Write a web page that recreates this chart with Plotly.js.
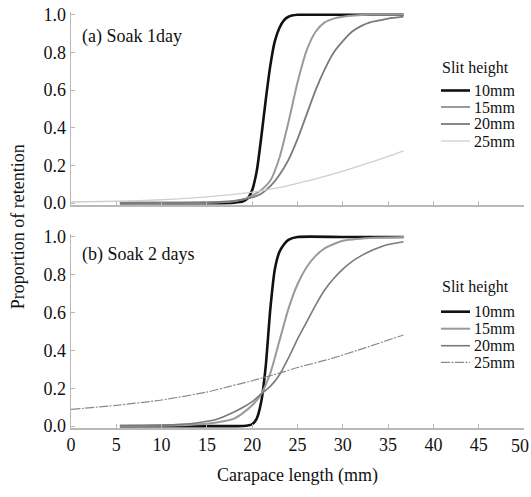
<!DOCTYPE html>
<html>
<head>
<meta charset="utf-8">
<script src="https://cdn.plot.ly/plotly-3.0.1.min.js"></script>
<style>html,body{margin:0;padding:0;background:#fff;font-family:"Liberation Serif",serif;}#chart{width:531px;height:497px;}
#chart text{font-family:"Liberation Serif","Times New Roman",serif !important;}</style>
</head>
<body>
<div id="chart"></div>
<script>
// ---- Data ----
const seriesNames = ["10mm", "15mm", "20mm", "25mm"];
const xTicks = [0, 5, 10, 15, 20, 25, 30, 35, 40, 45, 50];
const xTickText = ["0", "5", "10", "15", "20", "25", "30", "35", "40", "45", ""];
const yTicks = [0, 0.2, 0.4, 0.6, 0.8, 1.0];

// (a) Soak 1day
const a10x = [5.4, 10, 15, 18, 19, 19.5, 20, 20.5, 21, 21.5, 22, 22.5, 23, 23.5, 24, 25, 27, 30, 36.7];
const a10y = [0, 0, 0, 0.003, 0.01, 0.025, 0.07, 0.17, 0.35, 0.55, 0.73, 0.86, 0.93, 0.97, 0.99, 1.0, 1.0, 1.0, 1.0];
const a15x = [5.4, 10, 15, 18, 19, 20, 21, 22, 23, 24, 25, 26, 27, 28, 29, 30, 33, 36.7];
const a15y = [0, 0, 0.002, 0.01, 0.02, 0.04, 0.07, 0.12, 0.24, 0.43, 0.64, 0.81, 0.91, 0.96, 0.98, 0.99, 1.0, 1.0];
const a20x = [5.4, 10, 15, 18, 19, 20, 21, 22, 23, 24, 25, 26, 27, 28, 29, 30, 31, 32, 33, 34, 35, 36.7];
const a20y = [0, 0.001, 0.004, 0.012, 0.02, 0.03, 0.05, 0.09, 0.15, 0.23, 0.34, 0.47, 0.6, 0.71, 0.8, 0.86, 0.91, 0.94, 0.96, 0.97, 0.98, 0.99];
const a25x = [0, 5, 10, 15, 20, 22.5, 25, 27.5, 30, 32.5, 35, 36.7];
const a25y = [0.006, 0.01, 0.018, 0.033, 0.058, 0.078, 0.105, 0.135, 0.17, 0.208, 0.248, 0.278];

// (b) Soak 2 days
const b10x = [5.4, 10, 15, 18, 19, 19.5, 20, 20.5, 21, 21.5, 22, 22.5, 23, 23.5, 24, 25, 30, 36.7];
const b10y = [0, 0, 0, 0, 0.001, 0.003, 0.01, 0.04, 0.13, 0.32, 0.62, 0.83, 0.92, 0.96, 0.985, 1.0, 1.0, 1.0];
const b15x = [5.4, 10, 13, 15, 17, 18, 19, 20, 21, 22, 23, 24, 25, 26, 27, 28, 30, 33, 36.7];
const b15y = [0, 0.002, 0.006, 0.012, 0.027, 0.04, 0.07, 0.11, 0.17, 0.28, 0.45, 0.62, 0.75, 0.84, 0.9, 0.94, 0.98, 0.995, 1.0];
const b20x = [5.4, 8, 10, 12, 14, 16, 18, 19, 20, 21, 22, 23, 24, 25, 26, 27, 28, 29, 30, 31, 32, 33, 34, 35, 36.7];
const b20y = [0.001, 0.003, 0.005, 0.009, 0.018, 0.035, 0.075, 0.1, 0.13, 0.17, 0.21, 0.27, 0.36, 0.46, 0.55, 0.64, 0.72, 0.78, 0.83, 0.87, 0.9, 0.925, 0.945, 0.96, 0.975];
const b25x = [0, 5, 10, 15, 17.5, 20, 23, 25, 28.6, 32.2, 36.7];
const b25y = [0.088, 0.11, 0.138, 0.18, 0.21, 0.24, 0.28, 0.31, 0.355, 0.41, 0.482];

// ---- Styles ----
const FONT = "Liberation Serif";
const stylesA = [
  {color: "#111111", width: 2.6, dash: "solid"},
  {color: "#9a9a9a", width: 2.0, dash: "solid"},
  {color: "#7a7a7a", width: 1.8, dash: "solid"},
  {color: "#cfcfcf", width: 1.3, dash: "solid"}
];
const stylesB = [
  {color: "#111111", width: 2.6, dash: "solid"},
  {color: "#9a9a9a", width: 2.0, dash: "solid"},
  {color: "#7a7a7a", width: 1.6, dash: "solid"},
  {color: "#8a8a8a", width: 1.2, dash: "9px,1.5px,2px,1.5px"}
];

const dataA = [[a10x, a10y], [a15x, a15y], [a20x, a20y], [a25x, a25y]];
const dataB = [[b10x, b10y], [b15x, b15y], [b20x, b20y], [b25x, b25y]];

const traces = [];
dataA.forEach((d, i) => traces.push({
  x: d[0], y: d[1], xaxis: "x2", yaxis: "y2", type: "scatter", mode: "lines",
  name: seriesNames[i], line: Object.assign({shape: "spline", smoothing: 0.6}, stylesA[i]),
  showlegend: false, hoverinfo: "skip"
}));
dataB.forEach((d, i) => traces.push({
  x: d[0], y: d[1], xaxis: "x", yaxis: "y", type: "scatter", mode: "lines",
  name: seriesNames[i], line: Object.assign({shape: "spline", smoothing: 0.6}, stylesB[i]),
  showlegend: false, hoverinfo: "skip"
}));

const axisCommon = {
  showgrid: false, zeroline: false, showline: true, linecolor: "#b8b8b8", linewidth: 1.5,
  ticks: "inside", ticklen: 4, tickwidth: 1, tickcolor: "#b8b8b8",
  tickfont: {family: FONT, size: 18, color: "#111"}
};

// legend drawn manually
const shapes = [];
const annotations = [];
const legX0 = 0.8168, legX1 = 0.8808, legTX = 0.8852;
function addLegend(titleY, ys, styles) {
  annotations.push({xref: "paper", yref: "paper", x: legX0 - 0.002, y: titleY, xanchor: "left", yanchor: "middle",
    text: "Slit height", showarrow: false, font: {family: FONT, size: 16, color: "#111"}});
  ys.forEach((yy, i) => {
    shapes.push({type: "line", xref: "paper", yref: "paper", x0: legX0, x1: legX1, y0: yy, y1: yy,
      line: {color: styles[i].color, width: styles[i].width, dash: styles[i].dash}});
    annotations.push({xref: "paper", yref: "paper", x: legTX, y: yy, xanchor: "left", yanchor: "middle",
      text: seriesNames[i], showarrow: false, font: {family: FONT, size: 16, color: "#111"}});
  });
}
addLegend(0.8654, [0.8113, 0.7716, 0.7308, 0.6899], stylesA);
addLegend(0.3397, [0.2796, 0.2387, 0.1978, 0.1579], stylesB);

annotations.push({xref: "paper", yref: "paper", x: 0.0199, y: 0.9423, xanchor: "left", yanchor: "middle",
  text: "(a) Soak 1day", showarrow: false, font: {family: FONT, size: 18, color: "#111"}});
annotations.push({xref: "paper", yref: "paper", x: 0.0199, y: 0.4159, xanchor: "left", yanchor: "middle",
  text: "(b) Soak 2 days", showarrow: false, font: {family: FONT, size: 18, color: "#111"}});
annotations.push({xref: "paper", yref: "paper", x: -0.117, y: 0.485, xanchor: "center", yanchor: "middle",
  text: "Proportion of retention", textangle: -90, showarrow: false, font: {family: FONT, size: 18, color: "#111"}});
annotations.push({xref: "paper", yref: "paper", x: 0.501, y: -0.115, xanchor: "center", yanchor: "middle",
  text: "Carapace length (mm)", showarrow: false, font: {family: FONT, size: 18, color: "#111"}});
// last x tick label, kept inside the page edge as in the reference
annotations.push({xref: "x", yref: "paper", x: xTicks[xTicks.length - 1], y: -0.015, xanchor: "right", yanchor: "top", xshift: 7,
  text: String(xTicks[xTicks.length - 1]), showarrow: false, font: {family: FONT, size: 18, color: "#111"}});

const layout = {
  width: 531, height: 497,
  margin: {l: 71, r: 7, t: 12, b: 69},
  paper_bgcolor: "#ffffff", plot_bgcolor: "#ffffff",
  showlegend: false,
  font: {family: FONT},
  xaxis: Object.assign({}, axisCommon, {range: [0, 50], tickvals: xTicks, ticktext: xTickText, anchor: "y"}),
  xaxis2: Object.assign({}, axisCommon, {range: [0, 50], tickvals: xTicks, showticklabels: false, anchor: "y2", matches: "x"}),
  yaxis: Object.assign({}, axisCommon, {domain: [0, 0.466], range: [-0.01, 1.015], tickvals: yTicks, ticktext: yTicks.map(v => v.toFixed(1)), anchor: "x"}),
  yaxis2: Object.assign({}, axisCommon, {domain: [0.536, 1], range: [-0.01, 1.015], tickvals: yTicks, ticktext: yTicks.map(v => v.toFixed(1)), anchor: "x2"}),
  shapes: shapes,
  annotations: annotations
};

Plotly.newPlot("chart", traces, layout, {displayModeBar: false, staticPlot: true});
</script>
</body>
</html>
